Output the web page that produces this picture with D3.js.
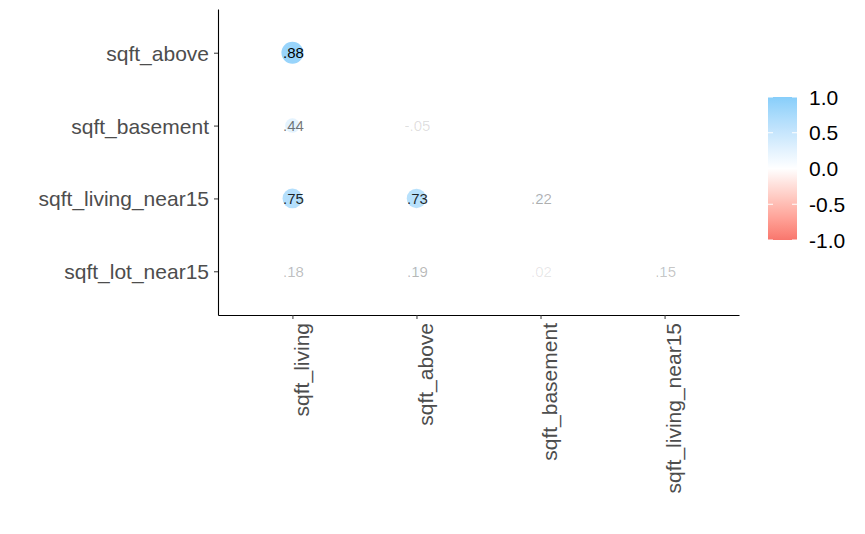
<!DOCTYPE html>
<meta charset="utf-8">
<head>
    <script src="https://cdn.jsdelivr.net/npm/d3@7"></script>
    <style>
        body { margin: 0; background: #fff; }
        text { font-family: "Liberation Sans", Arial, sans-serif; }
    </style>
    <title>correlation</title>
</head>
<body>
<div id="chart"></div>
<script>
    // variables on each axis
    var colNames = ["sqft_living", "sqft_above", "sqft_basement", "sqft_living_near15"];
    var rowNames = ["sqft_above", "sqft_basement", "sqft_living_near15", "sqft_lot_near15"];

    // correlation values, one array per row (lower triangle, left to right)
    var rAbove = [0.88];
    var rBasement = [0.44, -0.05];
    var rLivingNear15 = [0.75, 0.73, 0.22];
    var rLotNear15 = [0.18, 0.19, 0.02, 0.15];

    var legendTicks = [1.0, 0.5, 0.0, -0.5, -1.0];

    var width = 865, height = 534;
    var panel = {left: 218, right: 739, top: 9, bottom: 315};

    var rows = [rAbove, rBasement, rLivingNear15, rLotNear15];
    var cells = [];
    rows.forEach(function (vals, i) {
        vals.forEach(function (v, j) {
            cells.push({row: rowNames[i], col: colNames[j], value: v});
        });
    });

    var svg = d3.select("#chart").append("svg")
        .attr("width", width)
        .attr("height", height);

    var x = d3.scalePoint().domain(colNames)
        .range([panel.left, panel.right]).padding(0.6);
    var y = d3.scalePoint().domain(rowNames)
        .range([panel.top, panel.bottom]).padding(0.6);

    var color = d3.scaleLinear()
        .domain([-1, 0, 1])
        .range(["#F8766D", "#ffffff", "#87CEFA"])
        .interpolate(d3.interpolateLab);

    var absVals = cells.map(function (d) { return Math.abs(d.value); });
    var aMin = d3.min(absVals), aMax = d3.max(absVals);
    var rescale = d3.scaleLinear().domain([aMin, aMax]).range([0, 1]);
    var radius = d3.scaleLinear().domain([0, 1]).range([3.7, 11]);
    var alpha = d3.scaleLinear().domain([0, 1]).range([0.1, 1]);

    function fmt(v) {
        return (v < 0 ? "-" : "") + Math.abs(v).toFixed(2).replace(/^0/, "");
    }

    // axes
    var yAxis = svg.append("g")
        .attr("transform", "translate(" + panel.left + ",0)")
        .call(d3.axisLeft(y).tickSize(4).tickSizeOuter(0).tickPadding(5));
    yAxis.selectAll("text")
        .attr("font-size", "21px")
        .attr("fill", "#4D4D4D")
        .attr("font-family", "'Liberation Sans', Arial, sans-serif")
        .attr("dy", "0.36em");

    var xAxis = svg.append("g")
        .attr("transform", "translate(0," + panel.bottom + ")")
        .call(d3.axisBottom(x).tickSize(4).tickSizeOuter(0));
    xAxis.selectAll("text")
        .attr("font-size", "21px")
        .attr("fill", "#4D4D4D")
        .attr("font-family", "'Liberation Sans', Arial, sans-serif")
        .attr("transform", "rotate(-90)")
        .attr("text-anchor", "end")
        .attr("x", -8)
        .attr("y", 0)
        .attr("dy", "0.78em");

    svg.selectAll(".domain").attr("stroke", "#000").attr("stroke-width", 1.1);
    svg.selectAll(".tick line").attr("stroke", "#333");

    // circles (size and transparency follow |r|)
    svg.append("g").selectAll("circle")
        .data(cells).enter().append("circle")
        .attr("cx", function (d) { return x(d.col); })
        .attr("cy", function (d) { return y(d.row); })
        .attr("r", function (d) { return radius(rescale(Math.abs(d.value))); })
        .attr("fill", function (d) { return color(d.value); })
        .attr("fill-opacity", function (d) { return alpha(rescale(Math.abs(d.value))); });

    // labels
    svg.append("g").selectAll("text")
        .data(cells).enter().append("text")
        .attr("x", function (d) { return x(d.col) + 1; })
        .attr("y", function (d) { return y(d.row); })
        .attr("dy", "0.36em")
        .attr("text-anchor", "middle")
        .attr("font-size", "15px")
        .attr("fill", "#000")
        .attr("fill-opacity", function (d) { return alpha(rescale(Math.abs(d.value))); })
        .text(function (d) { return fmt(d.value); });

    // legend colourbar
    var lg = {x: 768, w: 29};
    var ly = d3.scaleLinear().domain([-1, 1]).range([240, 97]);

    var grad = svg.append("defs").append("linearGradient")
        .attr("id", "bar")
        .attr("x1", 0).attr("y1", 1).attr("x2", 0).attr("y2", 0);
    d3.range(-1, 1.001, 0.1).forEach(function (v) {
        grad.append("stop")
            .attr("offset", ((v + 1) / 2 * 100) + "%")
            .attr("stop-color", color(v));
    });

    svg.append("rect")
        .attr("x", lg.x).attr("y", ly(1))
        .attr("width", lg.w).attr("height", ly(-1) - ly(1))
        .attr("fill", "url(#bar)");

    var lt = svg.append("g").selectAll("g")
        .data(legendTicks).enter().append("g");
    lt.append("line")
        .attr("x1", lg.x).attr("x2", lg.x + 5)
        .attr("y1", function (d) { return ly(d); })
        .attr("y2", function (d) { return ly(d); })
        .attr("stroke", "#fff");
    lt.append("line")
        .attr("x1", lg.x + lg.w - 5).attr("x2", lg.x + lg.w)
        .attr("y1", function (d) { return ly(d); })
        .attr("y2", function (d) { return ly(d); })
        .attr("stroke", "#fff");
    lt.append("text")
        .attr("x", 809)
        .attr("y", function (d) { return ly(d); })
        .attr("dy", "0.36em")
        .attr("font-size", "21px")
        .attr("fill", "#000")
        .text(function (d) { return d.toFixed(1); });
</script>
</body>
